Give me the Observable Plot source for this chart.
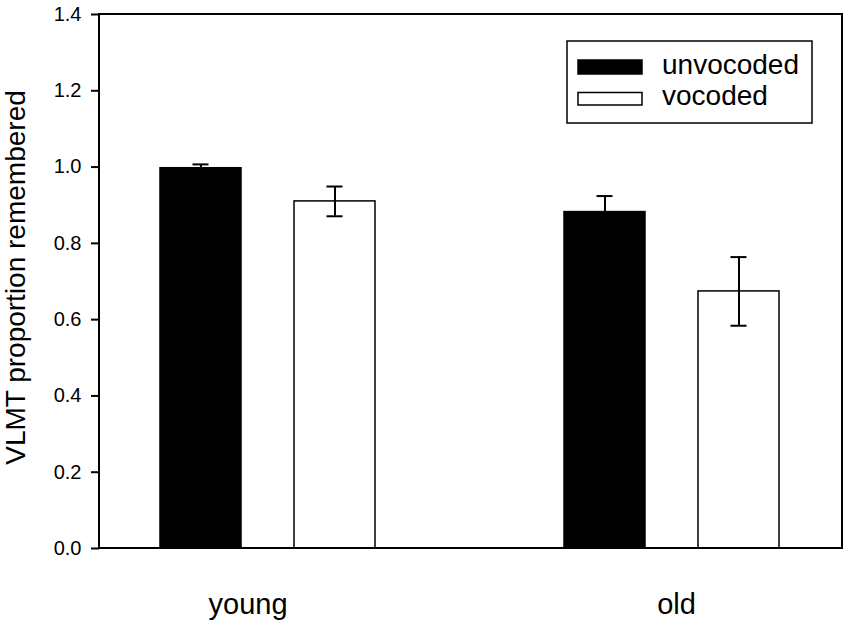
<!DOCTYPE html>
<html>
<head>
<meta charset="utf-8">
<script src="https://cdn.jsdelivr.net/npm/d3@7"></script>
<script src="https://cdn.jsdelivr.net/npm/@observablehq/plot@0.6"></script>
<style>
  html, body { margin: 0; padding: 0; background: #fff; }
  #chart svg { display: block; }
</style>
</head>
<body>
<div id="chart"></div>
<script>
// ---- data ----
const ages = ["young", "old"];
const conds = ["unvocoded", "vocoded"];
const meanUnvocoded = [0.997, 0.882];
const meanVocoded = [0.910, 0.674];
const errUnvocoded = [0.010, 0.042];
const errVocoded = [0.039, 0.090];
const yTicks = [0, 0.2, 0.4, 0.6, 0.8, 1.0, 1.2, 1.4];
const yTitle = "VLMT proportion remembered";

const data = [];
ages.forEach((a, i) => {
  data.push({age: a, cond: conds[0], mean: meanUnvocoded[i], err: errUnvocoded[i]});
  data.push({age: a, cond: conds[1], mean: meanVocoded[i], err: errVocoded[i]});
});

const W = 850, H = 623, ML = 99, MR = 8, MT = 14, MB = 75;
const font = "'Liberation Sans', Arial, Helvetica, sans-serif";

const plot = Plot.plot({
  width: W, height: H,
  marginLeft: ML, marginRight: MR, marginTop: MT, marginBottom: MB,
  style: {fontFamily: font, fontSize: "20px", color: "black", background: "white"},
  fx: {domain: ages, paddingInner: 0.163, paddingOuter: 0, axis: null, label: null},
  x: {domain: conds, paddingInner: 0.393, paddingOuter: 0.452, axis: null, label: null},
  y: {domain: [0, 1.4], label: null, axis: null},
  color: {domain: conds, range: ["black", "white"]},
  marks: [
    Plot.axisY({ticks: yTicks, tickFormat: d3.format(".1f"), tickSize: 8, tickPadding: 10,
                strokeWidth: 2, label: null, fontSize: 20}),
    Plot.barY(data, {fx: "age", x: "cond", y: "mean", fill: "cond", stroke: "black", strokeWidth: 1.5}),
    Plot.ruleX(data, {fx: "age", x: "cond", y1: d => d.mean - d.err, y2: d => d.mean + d.err, stroke: "black", strokeWidth: 2}),
    Plot.tickY(data, {fx: "age", x: "cond", y: d => d.mean + d.err, stroke: "black", strokeWidth: 2, insetLeft: 32.5, insetRight: 32.5}),
    Plot.tickY(data, {fx: "age", x: "cond", y: d => d.mean - d.err, stroke: "black", strokeWidth: 2, insetLeft: 32.5, insetRight: 32.5}),
    Plot.text([ages[0]], {fx: d => d, text: d => d, frameAnchor: "bottom", lineAnchor: "middle", dy: 56, dx: -20.5, fontSize: 29, fill: "black"}),
    Plot.text([ages[1]], {fx: d => d, text: d => d, frameAnchor: "bottom", lineAnchor: "middle", dy: 56, dx: 4, fontSize: 29, fill: "black"})
  ]
});
document.getElementById("chart").appendChild(plot);

// ---- overlays: frame, y-axis title, legend ----
const svg = d3.select(plot);
svg.append("rect")
  .attr("x", ML).attr("y", MT)
  .attr("width", W - ML - MR).attr("height", H - MT - MB)
  .attr("fill", "none").attr("stroke", "black").attr("stroke-width", 2);

svg.append("text")
  .attr("transform", `translate(25,${(MT + H - MB) / 2 - 3.5}) rotate(-90)`)
  .attr("text-anchor", "middle")
  .attr("font-family", font).attr("font-size", 28).attr("fill", "black")
  .text(yTitle);

const lg = svg.append("g");
lg.append("rect").attr("x", 567).attr("y", 41).attr("width", 245).attr("height", 82)
  .attr("fill", "white").attr("stroke", "black").attr("stroke-width", 1.5);
const swatchFill = ["black", "white"];
const swatchY = [60, 92.5], swatchH = [14, 12.5], textY = [74, 105];
conds.forEach((c, i) => {
  lg.append("rect").attr("x", 578).attr("y", swatchY[i]).attr("width", 64).attr("height", swatchH[i])
    .attr("fill", swatchFill[i]).attr("stroke", "black").attr("stroke-width", 1.5);
  lg.append("text").attr("x", 662).attr("y", textY[i]).attr("text-anchor", "start")
    .attr("font-family", font).attr("font-size", 28).attr("fill", "black").text(c);
});
</script>
</body>
</html>
